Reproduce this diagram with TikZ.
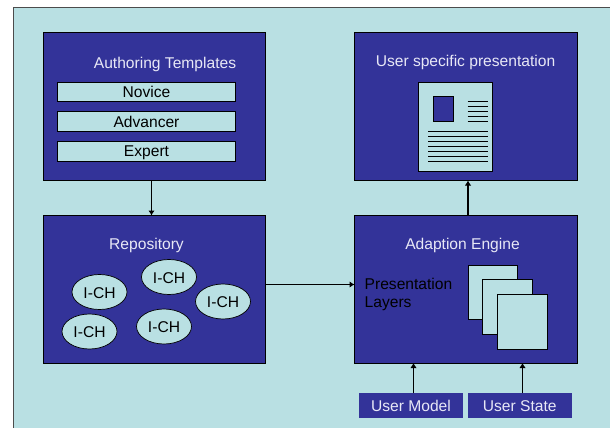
\documentclass[tikz,border=0pt]{standalone}
\usepackage{fontspec}
\setmainfont{Liberation Sans}
\usetikzlibrary{arrows.meta,shapes.geometric}
\definecolor{slateblue}{HTML}{333399}
\definecolor{paleaqua}{HTML}{B9E0E3}
\definecolor{paletext}{HTML}{E8E8F6}
\newcommand{\lbl}{\fontsize{15.6}{18}\selectfont}
\tikzset{
  x=1pt,y=-1pt,
  fixedline/.style={text height=14pt,text depth=3pt},
  panel/.style={draw=black,line width=0.8pt,fill=slateblue,inner sep=0pt,outer sep=0pt,anchor=north west,minimum width=222.5pt,minimum height=148pt},
  title/.style={text=paletext,font=\lbl,inner sep=0pt,fixedline},
  level/.style={draw=black,line width=0.8pt,fill=paleaqua,inner sep=0pt,outer sep=0pt,anchor=north west,minimum width=177.5pt,minimum height=19.5pt},
  leveltext/.style={inner sep=0pt,font=\lbl,text=black,fixedline},
  ich/.style={ellipse,draw=black,line width=0.7pt,fill=paleaqua,inner sep=0pt,outer sep=0pt,minimum width=55pt,minimum height=35pt,font=\lbl,text height=15pt,text depth=3pt},
  sheet/.style={draw=black,line width=0.8pt,fill=paleaqua,inner sep=0pt,outer sep=0pt,anchor=north west,minimum width=49.5pt,minimum height=54.5pt},
  usr/.style={fill=slateblue,text=paletext,inner sep=0pt,outer sep=0pt,anchor=north west,minimum height=25pt,font=\lbl,text height=15pt,text depth=3pt},
  arr/.style={line width=1.6pt,-{Latex[length=5pt,width=6.5pt]}},
  rule/.style={line width=0.7pt,draw=black},
}
\begin{document}
\begin{tikzpicture}
\useasboundingbox (0,0) rectangle (610,428);
\path[fill=white] (0,0) rectangle (610,428);
\path[fill=paleaqua,draw=black!70,line width=0.8pt] (13.5,7.5) -- (610,7.5) -- (610,428) -- (13.5,428) -- cycle;
% panels
\node[panel] (tl) at (43,32.5) {};
\node[panel] (tr) at (354.5,32.5) {};
\node[panel,minimum height=147.5pt] (bl) at (43,215.5) {};
\node[panel,minimum height=147.5pt] (br) at (354.5,215.5) {};
% authoring templates
\node[title] (tltitle) at (165,62.5) {Authoring Templates};
\node[level] (nov) at (57.5,82) {};
\node[level] (adv) at (57.5,111.5) {};
\node[level] (exp) at (57.5,141.5) {};
\node[leveltext] (novt) at (146.5,92) {Novice};
\node[leveltext] (advt) at (146.5,121.5) {Advancer};
\node[leveltext] (expt) at (146.5,151) {Expert};
% user specific presentation
\node[title] (trtitle) at (465.5,61) {User specific presentation};
\node[draw=black,line width=0.8pt,fill=paleaqua,inner sep=0pt,outer sep=0pt,anchor=north west,minimum width=74pt,minimum height=89pt] (doc) at (418.5,82) {};
\node[draw=black,line width=0.8pt,fill=slateblue,inner sep=0pt,outer sep=0pt,anchor=north west,minimum width=20.5pt,minimum height=25pt] (pic) at (433,96.5) {};
\foreach \yy in {101,106,111,116,121} \draw[rule] (467.5,\yy) -- (488,\yy);
\foreach \yy in {131,136,141,146,151,156,161} \draw[rule] (428,\yy) -- (488,\yy);
% repository
\node[title] (bltitle) at (146.5,243.5) {Repository};
\node[ich] (i1) at (99.5,292) {I-CH};
\node[ich] (i2) at (169,277) {I-CH};
\node[ich] (i3) at (223,301.5) {I-CH};
\node[ich] (i4) at (89.5,331.5) {I-CH};
\node[ich] (i5) at (164,326.5) {I-CH};
% adaption engine
\node[title] (brtitle) at (462.5,243.5) {Adaption Engine};
\node[inner sep=0pt,anchor=north west,align=left,font=\lbl,text=black] (pl) at (364.5,278) {Presentation\\Layers};
\node[sheet] (s1) at (468,265) {};
\node[sheet] (s2) at (482.5,279.5) {};
\node[sheet] (s3) at (497.5,294.5) {};
% user boxes
\node[usr,minimum width=104pt] (um) at (359,393) {User Model};
\node[usr,minimum width=104.5pt] (us) at (467.5,393) {User State};
% connectors
\draw[arr] ([xshift=-2.75pt]tl.south) -- ([xshift=-2.75pt]bl.north);
\draw[arr] ([xshift=2.25pt]br.north) -- ([xshift=2.25pt]tr.south);
\draw[arr] ([yshift=4.75pt]bl.east) -- ([yshift=4.75pt]br.west);
\draw[arr] ([xshift=2.5pt]um.north) -- ([xshift=2.5pt]um.north |- br.south);
\draw[arr] ([xshift=2.75pt]us.north) -- ([xshift=2.75pt]us.north |- br.south);
\end{tikzpicture}
\end{document}
